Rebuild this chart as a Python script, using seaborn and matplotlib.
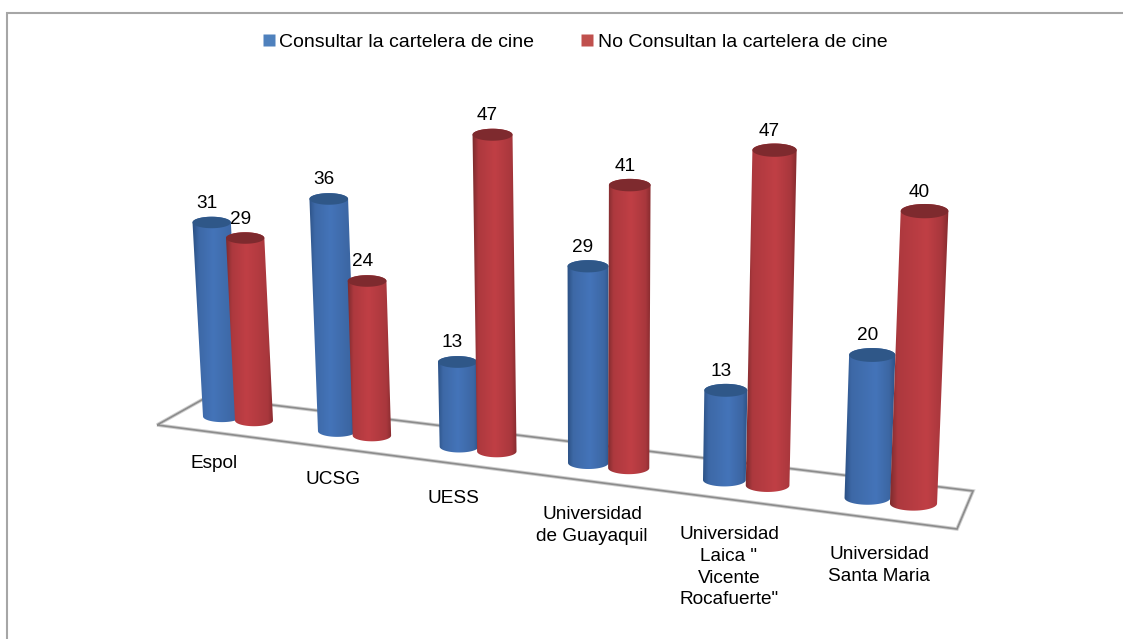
"""Cine survey chart, 3D cylinder look drawn on top of a seaborn barplot."""
import matplotlib
matplotlib.use('agg')
import matplotlib.pyplot as plt
from matplotlib.patches import PathPatch
from matplotlib.path import Path
from matplotlib.lines import Line2D
import numpy as np
import pandas
import seaborn as sns

universidades = ['Espol', 'UCSG', 'UESS', 'Universidad\nde Guayaquil',
                 'Universidad\nLaica "\nVicente\nRocafuerte"', 'Universidad\nSanta Maria']
serie_nombres = ['Consultar la cartelera de cine', 'No Consultan la cartelera de cine']
consultan = [31, 36, 13, 29, 13, 20]
no_consultan = [29, 24, 47, 41, 47, 40]

W, H = 1123, 639
BLUE = ['#2a4f82', '#4474b9', '#2a4e80']
RED = ['#782a2c', '#c03f45', '#80292c']
TOP_COLORS = ['#2f5788', '#7e2a2e']
LEGEND_COLORS = ['#4f81bd', '#c0504d']


def base_position(group, serie):
    """Floor position of a cylinder, the floor gets wider to the right"""
    center = 238 + 113 * group + 3.5 * group * group
    offset = 16 + 1.4 * group
    x = center - offset if serie == 0 else center + offset
    width = 19.0 + 9.5e-6 * (x - 221) ** 2
    y_low = 422 + 0.128 * (x - 221)
    return x, y_low, width


def project(x, value):
    """Value height to picture coordinates for a floor point x"""
    top_x = x + (x - 600) * 8.8e-4 * value
    scale = 6.25 + 0.00146 * (x - 221) + 0.005 * (value - 30)
    return top_x, scale * value


def cylinder_path(xb, yb, rb, xt, yt, rt, ry_b, ry_t):
    n = 30
    ang = np.linspace(0, np.pi, n)
    bottom = np.column_stack([xb - rb * np.cos(ang), yb + ry_b * np.sin(ang)])
    top = np.column_stack([xt + rt * np.cos(ang), yt - ry_t * np.sin(ang)])
    return Path(np.vstack([bottom, top, bottom[:1]]), closed=True)


def shade(colors, peak, n=120):
    """Horizontal cylinder shading, dark edges and one light band"""
    s = np.linspace(0, 1, n)
    rgb = np.array([matplotlib.colors.to_rgb(c) for c in colors])
    out = np.zeros((1, n, 3))
    for k in range(3):
        out[0, :, k] = np.interp(s, [0, 0.14, peak, 0.86, 1],
                                 [rgb[0, k], rgb[1, k] * 0.9, rgb[1, k], rgb[1, k] * 0.88, rgb[2, k]])
    return out


sns.set_style('white')
plt.rcParams['font.family'] = ['Liberation Sans', 'DejaVu Sans']

df = pandas.DataFrame({
    'universidad': universidades * 2,
    'serie': [serie_nombres[0]] * 6 + [serie_nombres[1]] * 6,
    'valor': consultan + no_consultan,
})

fig = plt.figure(figsize=(W / 100, H / 100), dpi=100)
ax = fig.add_axes([0, 0, 1, 1])
sns.barplot(data=df, x='universidad', y='valor', hue='serie', palette=LEGEND_COLORS,
            order=universidades, hue_order=serie_nombres, legend=False, ax=ax)
bars = [list(c) for c in ax.containers]
ax.set_axis_off()

# Floor of the chart, the outer frame only has a top and a left side
floor = Path([(157, 425), (207, 397), (973, 491), (957, 529), (157, 425)])
ax.add_patch(PathPatch(floor, fill=False, edgecolor='#cfcfcf', lw=2.6, zorder=1))
ax.add_patch(PathPatch(floor, fill=False, edgecolor='#8c8c8c', lw=1.2, zorder=1.1))
ax.plot([6.5, 6.5, W], [H, 13, 13], color='#a6a6a6', lw=1.5, solid_joinstyle='miter', zorder=1)

# Turn the seaborn bars into cylinders
z = 2
for group in range(len(universidades)):
    for serie in (0, 1):
        bar = bars[serie][group]
        value = bar.get_height()
        bar.set_visible(False)
        xb, y_low, rb = base_position(group, serie)
        xt, height = project(xb, value)
        rt = rb * (1 + 0.00028 * value)
        ry_b, ry_t = rb * 0.3, rt * 0.3
        yb = y_low - ry_b
        yt = yb - height
        path = cylinder_path(xb, yb, rb, xt, yt, rt, ry_b, ry_t)
        patch = PathPatch(path, transform=ax.transData, facecolor='none', edgecolor='none')
        ax.add_patch(patch)
        peak = 0.42 + 0.2 * (xb - 221) / 694
        colors = BLUE if serie == 0 else RED
        left, right = min(xb - rb, xt - rt) - 1, max(xb + rb, xt + rt) + 1
        img = ax.imshow(shade(colors, peak), extent=(left, right, yb + ry_b + 1, yt - ry_t - 1),
                        aspect='auto', zorder=z, interpolation='bilinear')
        img.set_clip_path(patch)
        angle = np.linspace(0, 2 * np.pi, 50)
        ax.fill(xt + rt * np.cos(angle), yt + ry_t * np.sin(angle), color=TOP_COLORS[serie], lw=0, zorder=z + 0.1)
        ax.text(xt - 5, yt - 19, '%d' % value, ha='center', va='center', fontsize=13.7, color='black', zorder=20)
        z += 1

# Category names below the floor
label_x = [214, 333, 453, 592, 729, 879]
label_y = [455, 471, 490, 506, 526, 546]
for name, lx, ly in zip(universidades, label_x, label_y):
    ax.text(lx, ly, name, ha='center', va='top', fontsize=13.7, linespacing=1.37, color='black', zorder=20)

handles = [Line2D([], [], ls='', marker='s', ms=8, mec='none', mfc=c) for c in LEGEND_COLORS]
fig.legend(handles, serie_nombres, ncol=2, loc='center', bbox_to_anchor=(574 / W, 1 - 42 / H, 0, 0),
           frameon=False, fontsize=14, labelcolor='black', handlelength=0.8, handletextpad=0.15,
           columnspacing=2.3, borderpad=0, borderaxespad=0)

ax.set_xlim(0, W)
ax.set_ylim(H, 0)
plt.savefig('out.png', dpi=100)
